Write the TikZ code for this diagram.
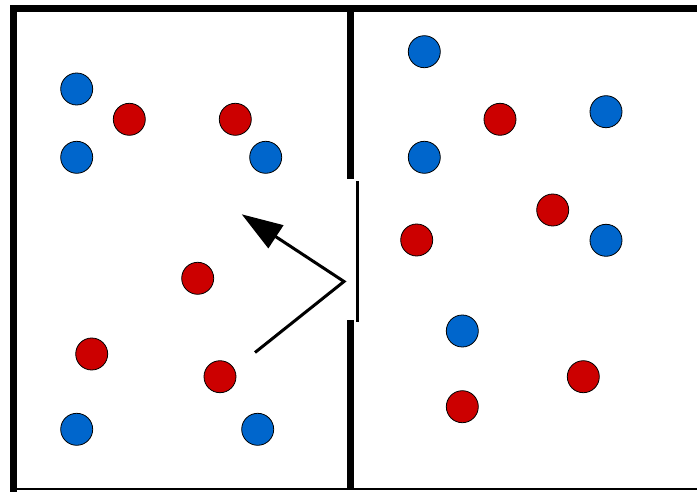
\documentclass[tikz,border=0pt]{standalone}
\usepackage{tikz}
\usetikzlibrary{arrows.meta}
\definecolor{ballB}{RGB}{0, 102, 204}
\definecolor{ballR}{RGB}{204, 0, 0}

\begin{document}
\begin{tikzpicture}[x=1pt, y=-1pt,
  ball/.style={circle, draw=black, line width=0.8pt, minimum size=32pt, inner sep=0pt},
  blueball/.style={ball, fill=ballB},
  redball/.style={ball, fill=ballR}]
  \useasboundingbox (0,0) rectangle (697,492);

  % Walls of the box (open on the right)
  \draw[line width=7pt, line cap=rect] (697,9) -- (13.5,9) -- (13.5,489);
  \draw[line width=2pt] (13.5,489) -- (697,489);

  % Partition with its gap
  \coordinate (wallTop) at (350,9);
  \coordinate (gapTop) at (350,179);
  \coordinate (gapBot) at (350,320);
  \coordinate (wallBot) at (350,489);
  \draw[line width=7pt] (wallTop) -- (gapTop);
  \draw[line width=7pt] (gapBot) -- (wallBot);

  % The door that opens the gap
  \coordinate (doorTop) at (357.7,181);
  \coordinate (doorBot) at (357.7,321.5);
  \draw[line width=3pt] (doorTop) -- (doorBot);

  % Left chamber
  \node[blueball] (l1) at (76.7,89) {};
  \node[redball]  (l2) at (129.3,119.3) {};
  \node[redball]  (l3) at (235.3,119.3) {};
  \node[blueball] (l4) at (76.7,157.3) {};
  \node[blueball] (l5) at (265.7,157.3) {};
  \node[redball]  (l6) at (197.7,278.3) {};
  \node[redball]  (l7) at (91.7,354) {};
  \node[redball]  (l8) at (220,376.7) {};
  \node[blueball] (l9) at (76.7,429.3) {};
  \node[blueball] (l10) at (257.7,429.3) {};

  % Right chamber
  \node[blueball] (r1) at (424.3,51.7) {};
  \node[redball]  (r2) at (500,119.3) {};
  \node[blueball] (r3) at (606,111.7) {};
  \node[blueball] (r4) at (424.3,157.3) {};
  \node[redball]  (r5) at (552.7,210) {};
  \node[redball]  (r6) at (416.7,240) {};
  \node[blueball] (r7) at (606,240.3) {};
  \node[blueball] (r8) at (462.3,331) {};
  \node[redball]  (r9) at (583.3,376.7) {};
  \node[redball]  (r10) at (462.3,406.7) {};

  % Bounce off the door
  \coordinate (pathStart) at (255,352.5);
  \coordinate (bounce) at (344,281.5);
  \coordinate (pathEnd) at (241.7,214.3);
  \draw[line width=3pt, -{Triangle[length=41pt, width=27pt]}]
    (pathStart) -- (bounce) -- (pathEnd);
\end{tikzpicture}
\end{document}
